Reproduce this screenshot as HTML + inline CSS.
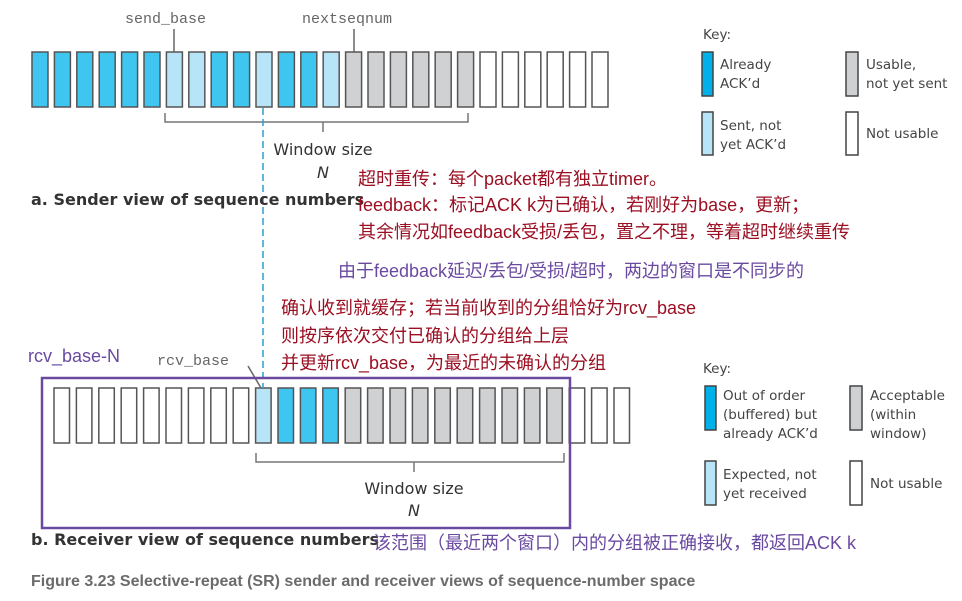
<!DOCTYPE html>
<html><head><meta charset="utf-8"><style>
html,body{margin:0;padding:0;background:#fff;}
svg{display:block;}
.m{font-family:"Liberation Mono",monospace;fill:#666;font-size:15px;}
.s{font-family:"DejaVu Sans","Liberation Sans",sans-serif;fill:#333;}
.k{font-family:"DejaVu Sans","Liberation Sans",sans-serif;fill:#444;font-size:13.5px;}
.r{font-family:"Liberation Sans","Noto Sans CJK SC",sans-serif;fill:#9b0f22;font-size:18px;}
.p{font-family:"Liberation Sans","Noto Sans CJK SC",sans-serif;fill:#6a4aa0;font-size:18px;}
.D{fill:#3ec5f0}.L{fill:#b8e4f7}.G{fill:#d0d1d3}.W{fill:#fff}
.bx rect{stroke:#555;stroke-width:1.5}
</style></head><body>
<svg width="962" height="601" viewBox="0 0 962 601" xmlns="http://www.w3.org/2000/svg">
<g class="bx">
<rect class="D" x="32" y="52" width="16" height="55"/>
<rect class="D" x="54.4" y="52" width="16" height="55"/>
<rect class="D" x="76.8" y="52" width="16" height="55"/>
<rect class="D" x="99.2" y="52" width="16" height="55"/>
<rect class="D" x="121.6" y="52" width="16" height="55"/>
<rect class="D" x="144" y="52" width="16" height="55"/>
<rect class="L" x="166.4" y="52" width="16" height="55"/>
<rect class="L" x="188.8" y="52" width="16" height="55"/>
<rect class="D" x="211.2" y="52" width="16" height="55"/>
<rect class="D" x="233.6" y="52" width="16" height="55"/>
<rect class="L" x="256" y="52" width="16" height="55"/>
<rect class="D" x="278.4" y="52" width="16" height="55"/>
<rect class="D" x="300.8" y="52" width="16" height="55"/>
<rect class="L" x="323.2" y="52" width="16" height="55"/>
<rect class="G" x="345.6" y="52" width="16" height="55"/>
<rect class="G" x="368" y="52" width="16" height="55"/>
<rect class="G" x="390.4" y="52" width="16" height="55"/>
<rect class="G" x="412.8" y="52" width="16" height="55"/>
<rect class="G" x="435.2" y="52" width="16" height="55"/>
<rect class="G" x="457.6" y="52" width="16" height="55"/>
<rect class="W" x="480" y="52" width="16" height="55"/>
<rect class="W" x="502.4" y="52" width="16" height="55"/>
<rect class="W" x="524.8" y="52" width="16" height="55"/>
<rect class="W" x="547.2" y="52" width="16" height="55"/>
<rect class="W" x="569.6" y="52" width="16" height="55"/>
<rect class="W" x="592" y="52" width="16" height="55"/>

<rect class="W" x="54" y="388" width="15.5" height="55"/>
<rect class="W" x="76.4" y="388" width="15.5" height="55"/>
<rect class="W" x="98.8" y="388" width="15.5" height="55"/>
<rect class="W" x="121.2" y="388" width="15.5" height="55"/>
<rect class="W" x="143.6" y="388" width="15.5" height="55"/>
<rect class="W" x="166" y="388" width="15.5" height="55"/>
<rect class="W" x="188.4" y="388" width="15.5" height="55"/>
<rect class="W" x="210.8" y="388" width="15.5" height="55"/>
<rect class="W" x="233.2" y="388" width="15.5" height="55"/>
<rect class="L" x="255.6" y="388" width="15.5" height="55"/>
<rect class="D" x="278" y="388" width="15.5" height="55"/>
<rect class="D" x="300.4" y="388" width="15.5" height="55"/>
<rect class="D" x="322.8" y="388" width="15.5" height="55"/>
<rect class="G" x="345.2" y="388" width="15.5" height="55"/>
<rect class="G" x="367.6" y="388" width="15.5" height="55"/>
<rect class="G" x="390" y="388" width="15.5" height="55"/>
<rect class="G" x="412.4" y="388" width="15.5" height="55"/>
<rect class="G" x="434.8" y="388" width="15.5" height="55"/>
<rect class="G" x="457.2" y="388" width="15.5" height="55"/>
<rect class="G" x="479.6" y="388" width="15.5" height="55"/>
<rect class="G" x="502" y="388" width="15.5" height="55"/>
<rect class="G" x="524.4" y="388" width="15.5" height="55"/>
<rect class="G" x="546.8" y="388" width="15.5" height="55"/>
<rect class="W" x="569.2" y="388" width="15.5" height="55"/>
<rect class="W" x="591.6" y="388" width="15.5" height="55"/>
<rect class="W" x="614" y="388" width="15.5" height="55"/>
</g>
<text class="m" x="125" y="23">send_base</text>
<text class="m" x="302" y="23">nextseqnum</text>
<line x1="174" y1="29" x2="174" y2="52" stroke="#666" stroke-width="1.5"/>
<line x1="354" y1="29" x2="354" y2="52" stroke="#666" stroke-width="1.5"/>
<path d="M165 113 V122 H468 V113 M323 122 V132" fill="none" stroke="#777" stroke-width="1.5"/>
<text class="s" x="323" y="155" font-size="16" text-anchor="middle">Window size</text>
<text class="s" x="323" y="178" font-size="16" font-style="italic" text-anchor="middle">N</text>
<line x1="263" y1="108" x2="263" y2="388" stroke="#2a9fd0" stroke-width="1.5" stroke-dasharray="7,4"/>
<text class="s" x="31" y="205" font-size="16" font-weight="bold">a. Sender view of sequence numbers</text>
<text class="k" x="703" y="39" font-size="15">Key:</text>
<rect x="702" y="52" width="11" height="44" fill="#00b0e8" stroke="#444" stroke-width="1.5"/>
<text class="k" x="720" y="69">Already</text><text class="k" x="720" y="88">ACK’d</text>
<rect x="846" y="52" width="12" height="44" fill="#cfd0d2" stroke="#444" stroke-width="1.5"/>
<text class="k" x="866" y="69">Usable,</text><text class="k" x="866" y="88">not yet sent</text>
<rect x="702" y="112" width="11" height="43" fill="#b8e4f7" stroke="#444" stroke-width="1.5"/>
<text class="k" x="720" y="130">Sent, not</text><text class="k" x="720" y="149">yet ACK’d</text>
<rect x="846" y="112" width="12" height="43" fill="#fff" stroke="#444" stroke-width="1.5"/>
<text class="k" x="866" y="138">Not usable</text>
<text class="r" x="358" y="185">超时重传：每个packet都有独立timer。</text>
<text class="r" x="358" y="211">feedback：标记ACK k为已确认，若刚好为base，更新；</text>
<text class="r" x="358" y="238">其余情况如feedback受损/丢包，置之不理，等着超时继续重传</text>
<text class="p" x="338" y="277">由于feedback延迟/丢包/受损/超时，两边的窗口是不同步的</text>
<text class="r" x="281" y="314">确认收到就缓存；若当前收到的分组恰好为rcv_base</text>
<text class="r" x="281" y="342">则按序依次交付已确认的分组给上层</text>
<text class="r" x="281" y="369">并更新rcv_base，为最近的未确认的分组</text>
<text class="p" x="28" y="362" font-size="19">rcv_base-N</text>
<text class="m" x="157" y="365">rcv_base</text>
<line x1="248" y1="366" x2="261" y2="388" stroke="#666" stroke-width="1.5"/>
<rect x="42" y="378" width="528" height="150" fill="none" stroke="#6a4aa0" stroke-width="2.5"/>
<path d="M256 453 V462 H564 V453 M414 462 V472" fill="none" stroke="#777" stroke-width="1.5"/>
<text class="s" x="414" y="494" font-size="16" text-anchor="middle">Window size</text>
<text class="s" x="414" y="516" font-size="16" font-style="italic" text-anchor="middle">N</text>
<text class="s" x="31" y="545" font-size="16" font-weight="bold">b. Receiver view of sequence numbers</text>
<text class="p" x="373" y="549">该范围（最近两个窗口）内的分组被正确接收，都返回ACK k</text>
<text class="k" x="703" y="373" font-size="15">Key:</text>
<rect x="705" y="386" width="11" height="44" fill="#00b0e8" stroke="#444" stroke-width="1.5"/>
<text class="k" x="723" y="400">Out of order</text><text class="k" x="723" y="419">(buffered) but</text><text class="k" x="723" y="438">already ACK’d</text>
<rect x="850" y="386" width="12" height="44" fill="#cfd0d2" stroke="#444" stroke-width="1.5"/>
<text class="k" x="870" y="400">Acceptable</text><text class="k" x="870" y="419">(within</text><text class="k" x="870" y="438">window)</text>
<rect x="705" y="461" width="11" height="44" fill="#b8e4f7" stroke="#444" stroke-width="1.5"/>
<text class="k" x="723" y="479">Expected, not</text><text class="k" x="723" y="498">yet received</text>
<rect x="850" y="461" width="12" height="44" fill="#fff" stroke="#444" stroke-width="1.5"/>
<text class="k" x="870" y="488">Not usable</text>
<text x="31" y="586" font-family="Liberation Sans, sans-serif" font-weight="bold" font-size="16" fill="#6b6b6b">Figure 3.23 Selective-repeat (SR) sender and receiver views of sequence-number space</text>
</svg>
</body></html>
